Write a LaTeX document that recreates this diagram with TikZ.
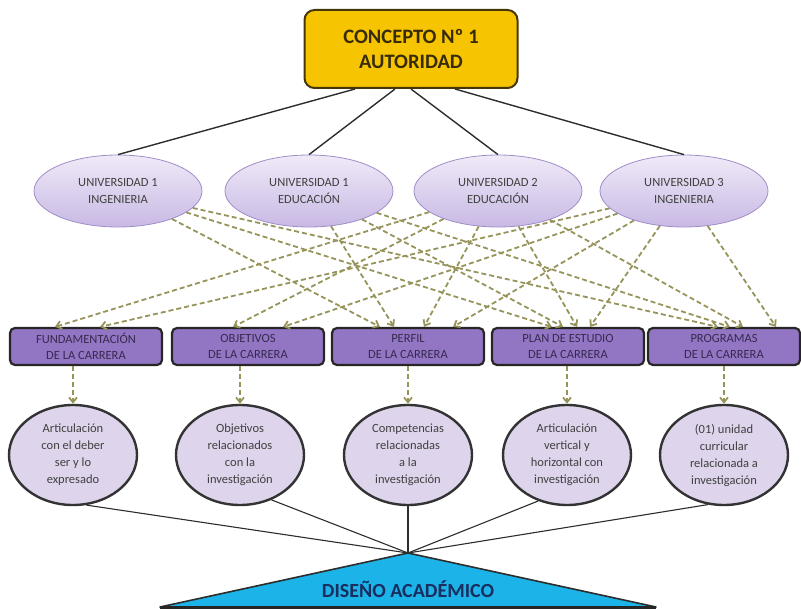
\documentclass[tikz,border=0pt]{standalone}
\usepackage{fontspec}
\setmainfont{Carlito}
\usetikzlibrary{shapes.geometric,arrows.meta,calc}
\definecolor{goldbox}{RGB}{246,196,0}
\definecolor{goldedge}{RGB}{70,55,10}
\definecolor{lavtop}{RGB}{240,234,248}
\definecolor{lavbot}{RGB}{200,185,228}
\definecolor{lavedge}{RGB}{160,140,200}
\definecolor{purplebox}{RGB}{146,118,196}
\definecolor{purpletext}{RGB}{55,42,80}
\definecolor{lightlav}{RGB}{222,212,236}
\definecolor{olive}{RGB}{150,148,90}
\definecolor{cyanfill}{RGB}{28,180,232}
\definecolor{navytext}{RGB}{25,45,95}
\definecolor{darkline}{RGB}{45,45,45}
\tikzset{
  topbox/.style={draw=goldedge, line width=2pt, fill=goldbox, rounded corners=10pt,
    minimum width=213pt, minimum height=78pt, align=center, text=goldedge!80!black,
    font=\fontsize{20.5}{25}\selectfont\bfseries},
  uni/.style={ellipse, draw=lavedge, line width=0.8pt, top color=lavtop, bottom color=lavbot,
    minimum width=168pt, minimum height=72pt, inner sep=0pt, align=center,
    text=black!75, font=\fontsize{12.5}{17}\selectfont},
  catbox/.style={draw=black!85, line width=2.2pt, fill=purplebox, rounded corners=5pt,
    minimum width=152pt, minimum height=37pt, inner sep=0pt, align=center,
    text=purpletext, font=\fontsize{12.5}{15.5}\selectfont},
  result/.style={ellipse, draw=black!80, line width=2.4pt, fill=lightlav,
    minimum width=128pt, minimum height=100pt, inner sep=0pt, align=center,
    text=black!75, font=\fontsize{12.5}{17}\selectfont},
  solidlink/.style={draw=darkline, line width=1.4pt},
  baselink/.style={draw=darkline, line width=1.1pt},
  dlink/.style={draw=olive, line width=1.8pt, dash pattern=on 5pt off 3pt,
    -{Straight Barb[length=5pt,width=8pt]}},
}
\begin{document}
\begin{tikzpicture}[x=1pt,y=-1pt]
\useasboundingbox (0,0) rectangle (801,610);

% top concept
\node[topbox] (top) at (411,49) {CONCEPTO Nº 1\\AUTORIDAD};

% universities
\node[uni] (u1) at (118,191) {UNIVERSIDAD 1\\INGENIERIA};
\node[uni] (u2) at (309,191) {UNIVERSIDAD 1\\EDUCACIÓN};
\node[uni] (u3) at (498,191) {UNIVERSIDAD 2\\EDUCACIÓN};
\node[uni] (u4) at (684,191) {UNIVERSIDAD 3\\INGENIERIA};

\draw[solidlink] ([xshift=-56pt]top.south) -- (u1.north);
\draw[solidlink] ([xshift=-16pt]top.south) -- (u2.north);
\draw[solidlink] ([xshift=0pt]top.south) -- (u3.north);
\draw[solidlink] ([xshift=44pt]top.south) -- (u4.north);

% category boxes
\node[catbox] (b1) at (86,346.5) {FUNDAMENTACIÓN\\DE LA CARRERA};
\node[catbox] (b2) at (248,346.5) {OBJETIVOS\\DE LA CARRERA};
\node[catbox] (b3) at (408,346.5) {PERFIL\\DE LA CARRERA};
\node[catbox] (b4) at (568,346.5) {PLAN DE ESTUDIO\\DE LA CARRERA};
\node[catbox] (b5) at (724,346.5) {PROGRAMAS\\DE LA CARRERA};

% dashed links universities -> boxes
\draw[dlink] (u3) -- ([xshift=-31pt]b1.north);
\draw[dlink] (u4) -- ([xshift=14pt]b1.north);
\draw[dlink] (u3) -- ([xshift=-15pt]b2.north);
\draw[dlink] (u4) -- ([xshift=35pt]b2.north);
\draw[dlink] (u1) -- ([xshift=-28pt]b3.north);
\draw[dlink] (u2) -- ([xshift=-14pt]b3.north);
\draw[dlink] (u3) -- ([xshift=16pt]b3.north);
\draw[dlink] (u4) -- ([xshift=45pt]b3.north);
\draw[dlink] (u1) -- ([xshift=-16pt]b4.north);
\draw[dlink] (u2) -- ([xshift=-5pt]b4.north);
\draw[dlink] (u3) -- ([xshift=9pt]b4.north);
\draw[dlink] (u4) -- ([xshift=22pt]b4.north);
\draw[dlink] (u1) -- ([xshift=-6pt]b5.north);
\draw[dlink] (u2) -- ([xshift=6pt]b5.north);
\draw[dlink] (u3) -- ([xshift=19pt]b5.north);
\draw[dlink] (u4) -- ([xshift=52pt]b5.north);

% result ellipses
\node[result] (e1) at (73,455) {Articulación\\con el deber\\ser y lo\\expresado};
\node[result] (e2) at (240,455) {Objetivos\\relacionados\\con la\\investigación};
\node[result] (e3) at (408,455) {Competencias\\relacionadas\\a la\\investigación};
\node[result] (e4) at (567,455) {Articulación\\vertical y\\horizontal con\\investigación};
\node[result] (e5) at (724,455) {(01) unidad\\curricular\\relacionada a\\investigación};

\foreach \i in {1,...,5}{
  \draw[dlink] (e\i.north |- b\i.south) -- (e\i.north);
}

% academic design triangle
\coordinate (apex) at (408,553);
\coordinate (bl) at (160,607);
\coordinate (br) at (656,607);
\draw[baselink] (e1.-75) -- (apex);
\draw[baselink] (e2.-55) -- (apex);
\draw[baselink] (e3.south) -- (apex);
\draw[baselink] (e4.-122) -- (apex);
\draw[baselink] (e5.-108) -- (apex);
\draw[draw=darkline, line width=1.6pt, fill=cyanfill, line join=round] (apex) -- (br) -- (bl) -- cycle;
\draw[draw=black!85, line width=3pt] (bl) -- (br);
\node[text=navytext, font=\fontsize{20}{22}\selectfont\bfseries] (design) at (408,589) {DISEÑO ACADÉMICO};
\end{tikzpicture}
\end{document}
